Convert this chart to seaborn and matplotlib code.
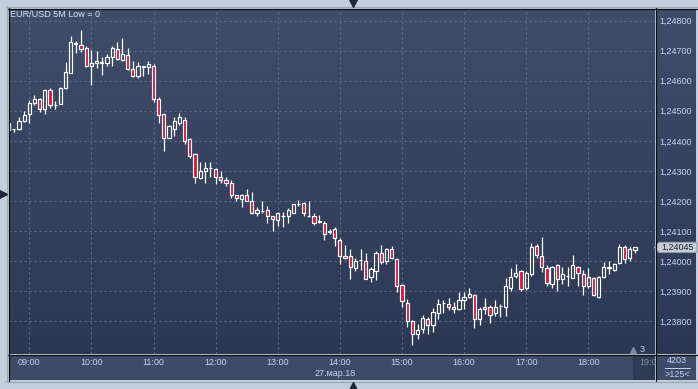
import numpy as np
import matplotlib
matplotlib.use("Agg")
import matplotlib.pyplot as plt
import seaborn as sns
from matplotlib.patches import Polygon
from matplotlib.lines import Line2D
from matplotlib.colors import LinearSegmentedColormap
import matplotlib.transforms as mtransforms

# ---------------- data (EUR/USD, 5-minute bars from 08:40) ----------------
open_ = [1.24461, 1.24438, 1.24439, 1.24467, 1.24489, 1.24527, 1.24538, 1.24507, 1.24568, 1.24519,
         1.24524, 1.24577, 1.24627, 1.24727, 1.24720, 1.24710, 1.24650, 1.24658, 1.24660, 1.24659,
         1.24680, 1.24707, 1.24670, 1.24687, 1.24640, 1.24617, 1.24647, 1.24647, 1.24650, 1.24540,
         1.24489, 1.24410, 1.24439, 1.24459, 1.24470, 1.24406, 1.24357, 1.24277, 1.24300, 1.24308,
         1.24306, 1.24278, 1.24271, 1.24261, 1.24221, 1.24207, 1.24219, 1.24201, 1.24161, 1.24165,
         1.24168, 1.24148, 1.24138, 1.24149, 1.24151, 1.24160, 1.24189, 1.24192, 1.24148, 1.24151,
         1.24131, 1.24128, 1.24098, 1.24108, 1.24071, 1.24018, 1.24018, 1.23978, 1.24002, 1.24001,
         1.23948, 1.23967, 1.24028, 1.24000, 1.24041, 1.24008, 1.23919, 1.23861, 1.23800, 1.23758,
         1.23772, 1.23808, 1.23787, 1.23826, 1.23860, 1.23856, 1.23847, 1.23839, 1.23870, 1.23880,
         1.23886, 1.23806, 1.23847, 1.23847, 1.23826, 1.23849, 1.23847, 1.23911, 1.23949, 1.23967,
         1.23909, 1.23956, 1.24050, 1.24017, 1.23976, 1.23922, 1.23987, 1.23939, 1.23950, 1.23944,
         1.23981, 1.23958, 1.23916, 1.23942, 1.23880, 1.23947, 1.23978, 1.23969, 1.23994, 1.24047,
         1.24009, 1.24037]
high = [1.24463, 1.24441, 1.24478, 1.24498, 1.24536, 1.24551, 1.24542, 1.24572, 1.24576, 1.24533,
        1.24578, 1.24661, 1.24748, 1.24731, 1.24769, 1.24717, 1.24702, 1.24698, 1.24678, 1.24689,
        1.24717, 1.24728, 1.24741, 1.24709, 1.24667, 1.24661, 1.24650, 1.24667, 1.24656, 1.24547,
        1.24494, 1.24453, 1.24480, 1.24491, 1.24478, 1.24411, 1.24361, 1.24328, 1.24328, 1.24328,
        1.24311, 1.24300, 1.24281, 1.24269, 1.24221, 1.24222, 1.24239, 1.24228, 1.24178, 1.24199,
        1.24182, 1.24150, 1.24163, 1.24163, 1.24176, 1.24191, 1.24202, 1.24197, 1.24199, 1.24158,
        1.24152, 1.24133, 1.24108, 1.24112, 1.24076, 1.24052, 1.24041, 1.24011, 1.24041, 1.24028,
        1.23981, 1.24033, 1.24052, 1.24044, 1.24050, 1.24011, 1.23922, 1.23872, 1.23803, 1.23789,
        1.23820, 1.23813, 1.23842, 1.23872, 1.23869, 1.23878, 1.23864, 1.23898, 1.23898, 1.23911,
        1.23889, 1.23847, 1.23878, 1.23853, 1.23871, 1.23858, 1.23942, 1.23978, 1.23991, 1.23969,
        1.23967, 1.24061, 1.24058, 1.24080, 1.23987, 1.23983, 1.23989, 1.23980, 1.23980, 1.24020,
        1.23983, 1.23969, 1.23978, 1.23947, 1.23950, 1.23998, 1.24000, 1.23994, 1.24058, 1.24053,
        1.24050, 1.24047]
low = [1.24436, 1.24430, 1.24437, 1.24464, 1.24459, 1.24520, 1.24496, 1.24489, 1.24508, 1.24506,
       1.24521, 1.24574, 1.24626, 1.24694, 1.24697, 1.24647, 1.24587, 1.24642, 1.24620, 1.24650,
       1.24649, 1.24668, 1.24667, 1.24636, 1.24611, 1.24609, 1.24617, 1.24622, 1.24529, 1.24459,
       1.24367, 1.24408, 1.24416, 1.24454, 1.24389, 1.24344, 1.24261, 1.24272, 1.24261, 1.24278,
       1.24256, 1.24259, 1.24250, 1.24210, 1.24200, 1.24180, 1.24199, 1.24157, 1.24150, 1.24159,
       1.24126, 1.24099, 1.24117, 1.24114, 1.24126, 1.24160, 1.24184, 1.24151, 1.24147, 1.24120,
       1.24126, 1.24070, 1.24089, 1.24050, 1.23989, 1.24006, 1.23939, 1.23967, 1.23969, 1.23939,
       1.23931, 1.23936, 1.23989, 1.23989, 1.24006, 1.23897, 1.23847, 1.23780, 1.23720, 1.23741,
       1.23761, 1.23756, 1.23764, 1.23806, 1.23828, 1.23836, 1.23828, 1.23837, 1.23839, 1.23878,
       1.23776, 1.23786, 1.23824, 1.23794, 1.23817, 1.23813, 1.23817, 1.23900, 1.23944, 1.23900,
       1.23904, 1.23950, 1.24009, 1.23964, 1.23917, 1.23909, 1.23900, 1.23924, 1.23917, 1.23942,
       1.23917, 1.23887, 1.23909, 1.23883, 1.23878, 1.23944, 1.23958, 1.23967, 1.23989, 1.23994,
       1.24000, 1.24028]
close = [1.24437, 1.24441, 1.24467, 1.24487, 1.24527, 1.24540, 1.24507, 1.24569, 1.24520, 1.24520,
         1.24577, 1.24630, 1.24730, 1.24721, 1.24707, 1.24650, 1.24660, 1.24667, 1.24661, 1.24680,
         1.24710, 1.24671, 1.24690, 1.24639, 1.24617, 1.24650, 1.24649, 1.24657, 1.24540, 1.24487,
         1.24410, 1.24448, 1.24466, 1.24478, 1.24400, 1.24349, 1.24280, 1.24300, 1.24311, 1.24309,
         1.24278, 1.24271, 1.24260, 1.24221, 1.24211, 1.24218, 1.24200, 1.24160, 1.24168, 1.24166,
         1.24148, 1.24141, 1.24159, 1.24150, 1.24170, 1.24188, 1.24190, 1.24158, 1.24150, 1.24128,
         1.24131, 1.24091, 1.24098, 1.24078, 1.24017, 1.24011, 1.23981, 1.24001, 1.24002, 1.23941,
         1.23972, 1.24028, 1.23998, 1.24041, 1.24009, 1.23917, 1.23867, 1.23800, 1.23758, 1.23771,
         1.23811, 1.23787, 1.23830, 1.23857, 1.23861, 1.23848, 1.23841, 1.23870, 1.23880, 1.23889,
         1.23806, 1.23840, 1.23840, 1.23820, 1.23847, 1.23849, 1.23916, 1.23947, 1.23959, 1.23906,
         1.23961, 1.24047, 1.24020, 1.23980, 1.23927, 1.23980, 1.23939, 1.23958, 1.23950, 1.23987,
         1.23961, 1.23916, 1.23947, 1.23887, 1.23947, 1.23980, 1.23978, 1.23991, 1.24047, 1.24006,
         1.24039, 1.24045]

bars_per_hour = 12
first_hour_bar = 4            # 09:00 is the 5th bar (series starts 08:40)
hour_labels = ["09:00", "10:00", "11:00", "12:00", "13:00", "14:00",
               "15:00", "16:00", "17:00", "18:00"]
clipped_hour_label = "19:00"
price_ticks = [1.238, 1.239, 1.240, 1.241, 1.242, 1.243, 1.244, 1.245, 1.246, 1.247, 1.248]
price_labels = ["1,23800", "1,23900", "1,24000", "1,24100", "1,24200", "1,24300",
                "1,24400", "1,24500", "1,24600", "1,24700", "1,24800"]
title_text = "EUR/USD 5M Low = 0"
date_text = "27.мар.18"
last_price_text = "1,24045"
count_text = "4203"
zoom_text = ">125<"
marker_text = "3"

# ---------------- styling ----------------
sns.set_theme(style="dark")
plt.rcParams['font.family'] = ['Liberation Sans', 'DejaVu Sans']

W, H = 698, 389
FRAME = '#c3cedc'
BG_TOP = '#3f4d69'
BG_BOT = '#2c3853'
STRIP = '#3d4b66'
TXT = '#c5d5ee'
RED = '#e0123c'
FS = 6.5

fig = plt.figure(figsize=(W / 100, H / 100), dpi=100)
fig.patch.set_facecolor(FRAME)


def fx(px):
    return px / W


def fy(py):
    return 1 - py / H


def rect_px(x0, y0, x1, y1):
    return [fx(x0), fy(y1), fx(x1) - fx(x0), fy(y0) - fy(y1)]


grad_cmap = LinearSegmentedColormap.from_list('bg', [BG_BOT, BG_TOP])
grad = np.linspace(0, 1, 256).reshape(-1, 1)


def plain_axes(rect, color=None, z=1):
    a = fig.add_axes(rect, zorder=z)
    a.set_xticks([])
    a.set_yticks([])
    for s in a.spines.values():
        s.set_visible(False)
    if color is None:
        a.set_facecolor('none')
        a.imshow(grad, extent=[0, 1, 0, 1], transform=a.transAxes, aspect='auto',
                 cmap=grad_cmap, origin='lower', zorder=-1)
        a.set_xlim(0, 1)
        a.set_ylim(0, 1)
    else:
        a.set_facecolor(color)
    return a


# side panels
right_ax = plain_axes(rect_px(656, 9, 696, 354), None, 1)
strip_ax = plain_axes(rect_px(9, 355, 655, 380), STRIP, 1)
box_ax = plain_axes(rect_px(656, 355, 696, 380), STRIP, 1)
dark_ax = plain_axes(rect_px(633, 356, 655, 380), '#2f3b53', 1.5)

# main axes
ax = fig.add_axes(rect_px(9, 9, 655, 354), zorder=2)
ax.set_facecolor('none')
ax.imshow(grad, extent=[0, 1, 0, 1], transform=ax.transAxes, aspect='auto',
          cmap=grad_cmap, origin='lower', zorder=-1)
for s in ax.spines.values():
    s.set_visible(False)

o = np.array(open_)
h = np.array(high)
l = np.array(low)
c = np.array(close)
x = np.arange(len(o))
body_top = np.maximum(o, c)
body_bot = np.minimum(o, c)
bull = c >= o

ax.vlines(x, body_top, h, color='white', lw=0.9, zorder=3)
ax.vlines(x, l, body_bot, color='white', lw=0.9, zorder=3)
ax.bar(x[bull], np.maximum(body_top - body_bot, 0.000008)[bull], bottom=body_bot[bull],
       width=0.62, facecolor='none', edgecolor='white', linewidth=0.85, zorder=4)
ax.bar(x[~bull], np.maximum(body_top - body_bot, 0.000008)[~bull], bottom=body_bot[~bull],
       width=0.62, facecolor=RED, edgecolor='white', linewidth=0.85, zorder=4)

ax.set_xlim(0.08, 124.88)
ax.set_ylim(1.236901, 1.248390)

hour_pos = [first_hour_bar + bars_per_hour * i for i in range(len(hour_labels))]
ax.set_xticks(hour_pos)
ax.set_xticklabels(hour_labels)
ax.set_yticks(price_ticks)
ax.set_yticklabels(price_labels)
ax.yaxis.tick_right()
ax.tick_params(axis='x', length=0, pad=3.2, labelsize=FS, labelcolor=TXT)
ax.tick_params(axis='y', length=0, pad=3.0, labelsize=FS, labelcolor=TXT)
for t in ax.get_yticklabels():
    t.set_horizontalalignment('left')
ax.grid(True, color='#5a6a87', linestyle=(0, (2, 2.5)), linewidth=0.8)
ax.set_axisbelow(True)

# clipped 19:00 label in dark box
dark_ax.text((651 - 633) / 22, 1 - (362.7 - 356) / 24, clipped_hour_label, transform=dark_ax.transAxes,
             ha='center', va='center', fontsize=FS, color='#7f8fa8', clip_on=True)

# title and other labels
fig.text(fx(10), fy(14.3), title_text, ha='left', va='center', fontsize=FS, color='#dde5f0')
fig.text(fx(335), fy(373.3), date_text, ha='center', va='center', fontsize=FS, color=TXT)
fig.text(fx(677), fy(360.7), count_text, ha='center', va='center', fontsize=FS, color=TXT)
fig.add_artist(Line2D([fx(665), fx(690)], [fy(367.7), fy(367.7)], color=TXT, lw=0.7))
fig.text(fx(677), fy(374.3), zoom_text, ha='center', va='center', fontsize=FS, color=TXT)
fig.text(fx(642), fy(349), marker_text, ha='center', va='center', fontsize=FS, color=TXT, zorder=6)
fig.add_artist(Line2D([fx(633)], [fy(350)], marker='^', markersize=4.5, color='#7d8ca6', lw=0, zorder=6))

# last-price flag
bt = mtransforms.blended_transform_factory(fig.transFigure, ax.transData)
lp = close[-1]
d = 0.000175
flag = Polygon([(fx(654), lp), (fx(659), lp + d), (fx(697), lp + d), (fx(697), lp - d), (fx(659), lp - d)],
               closed=True, transform=bt, facecolor='#c6cdd8', edgecolor='#8894a6', lw=0.6, zorder=7)
fig.add_artist(flag)
fig.text(fx(661), lp, last_price_text, transform=bt, ha='left', va='center', fontsize=FS,
         color='#1a2230', zorder=8)

# frame lines
LINE = '#0c0e13'
for xs, ys in [([8, 697], [8.5, 8.5]), ([8.5, 8.5], [8, 380.5]), ([655.5, 655.5], [8, 380.5]),
               ([8, 697], [354.5, 354.5])]:
    fig.add_artist(Line2D([fx(v) for v in xs], [fy(v) for v in ys], color=LINE, lw=0.9, zorder=9))
for xs, ys in [([6, 698], [6.5, 6.5]), ([6.5, 6.5], [6, 382]), ([6, 698], [381.5, 381.5])]:
    fig.add_artist(Line2D([fx(v) for v in xs], [fy(v) for v in ys], color='#9aa7b8', lw=0.8, zorder=9))

# frame triangles
for (px, py, m) in [(352.5, 2.8, 'v'), (3.2, 194, '>'), (352.5, 386, '^')]:
    fig.add_artist(Line2D([fx(px)], [fy(py)], marker=m, markersize=5.5, color='#1d2637', lw=0, zorder=9))

fig.savefig('out.png', dpi=100, facecolor=fig.get_facecolor())
